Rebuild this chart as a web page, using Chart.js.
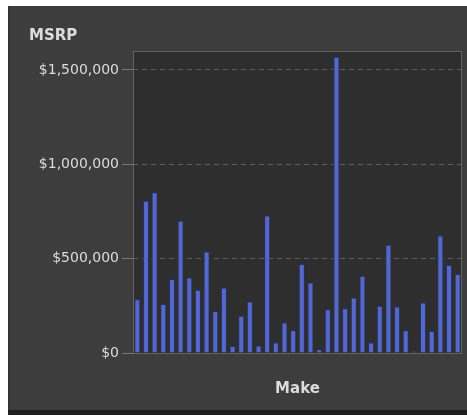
<!DOCTYPE html>
<html>
<head>
<meta charset="utf-8">
<script src="https://cdn.jsdelivr.net/npm/chart.js@4"></script>
<style>
  html, body { margin: 0; padding: 0; background: #ffffff; }
  #wrap { width: 467px; height: 415px; position: relative; }
</style>
</head>
<body>
<div id="wrap"><canvas id="chart" width="467" height="415"></canvas></div>
<script>
// Total MSRP per make
const makes = [
  'Acura', 'Audi', 'BMW', 'Buick', 'Cadillac', 'Chevrolet', 'Chrysler', 'Dodge',
  'Ford', 'GMC', 'Honda', 'Hummer', 'Hyundai', 'Infiniti', 'Isuzu', 'Jaguar',
  'Jeep', 'Kia', 'Land Rover', 'Lexus', 'Lincoln', 'MINI', 'Mazda', 'Mercedes-Benz',
  'Mercury', 'Mitsubishi', 'Nissan', 'Oldsmobile', 'Pontiac', 'Porsche', 'Saab',
  'Saturn', 'Scion', 'Subaru', 'Suzuki', 'Toyota', 'Volkswagen', 'Volvo'
];
const msrp = [
  285000, 807000, 852000, 259000, 392000, 701000, 400000, 335000,
  538000, 223000, 347000, 37000, 197000, 273000, 40000, 728000,
  55000, 161000, 120000, 471000, 374000, 20000, 232000, 1569000,
  237000, 294000, 409000, 55000, 250000, 574000, 246000,
  120000, 11000, 267000, 117000, 622000, 466000, 418000
];
const yTickValues = [0, 500000, 1000000, 1500000];
const yMax = 1600000;

// Panel, plot background and plot frame
const panelPlugin = {
  id: 'panel',
  beforeDraw(chart) {
    const ctx = chart.ctx;
    const a = chart.chartArea;
    ctx.save();
    ctx.fillStyle = '#ffffff';
    ctx.fillRect(0, 0, chart.width, chart.height);
    ctx.fillStyle = '#3d3d3d';
    ctx.fillRect(8, 6, chart.width - 8, 404);
    ctx.fillStyle = '#1f1f1f';
    ctx.fillRect(8, 410, chart.width - 8, 5);
    ctx.fillStyle = '#343434';
    ctx.fillRect(8, 6, 2, 404);
    ctx.fillStyle = '#2e2e2e';
    ctx.fillRect(a.left, a.top, a.right - a.left, a.bottom - a.top);
    ctx.restore();
  },
  afterDraw(chart) {
    const ctx = chart.ctx;
    const a = chart.chartArea;
    ctx.save();
    ctx.strokeStyle = '#626262';
    ctx.lineWidth = 1;
    ctx.strokeRect(a.left + 0.5, a.top + 0.5, a.right - a.left - 1, a.bottom - a.top);
    ctx.restore();
  }
};

new Chart(document.getElementById('chart'), {
  type: 'bar',
  data: {
    labels: makes,
    datasets: [{
      label: 'MSRP',
      data: msrp,
      backgroundColor: '#5568c8',
      borderColor: '#25306a',
      borderWidth: 1,
      barPercentage: 0.7,
      categoryPercentage: 1.0
    }]
  },
  options: {
    responsive: false,
    animation: false,
    devicePixelRatio: 1,
    layout: { padding: { left: 29, top: 27, right: 5, bottom: 13 } },
    plugins: {
      legend: { display: false },
      tooltip: { enabled: false },
      title: {
        display: true,
        text: 'MSRP',
        align: 'start',
        color: '#dcdcdc',
        font: { family: 'DejaVu Sans', size: 15, weight: 'bold' },
        padding: { top: 0, bottom: 6 }
      }
    },
    scales: {
      x: {
        type: 'category',
        offset: true,
        grid: { display: false },
        border: { display: false },
        ticks: { display: false },
        title: {
          display: true,
          text: 'Make',
          color: '#dcdcdc',
          font: { family: 'DejaVu Sans', size: 15, weight: 'bold' },
          padding: { top: 19, bottom: 4 }
        }
      },
      y: {
        min: 0,
        max: yMax,
        border: { display: false, dash: [5, 4] },
        afterBuildTicks(scale) {
          scale.ticks = yTickValues.map(v => ({ value: v }));
        },
        afterFit(scale) { scale.width = 104; },
        grid: {
          color: '#5e5e5e',
          tickColor: '#7a7a7a',
          tickBorderDash: [],
          tickLength: 11,
          drawTicks: true
        },
        ticks: {
          color: '#dcdcdc',
          padding: 3,
          font: { family: 'DejaVu Sans', size: 14 },
          callback: v => '$' + Number(v).toLocaleString('en-US')
        }
      }
    }
  },
  plugins: [panelPlugin]
});
</script>
</body>
</html>
